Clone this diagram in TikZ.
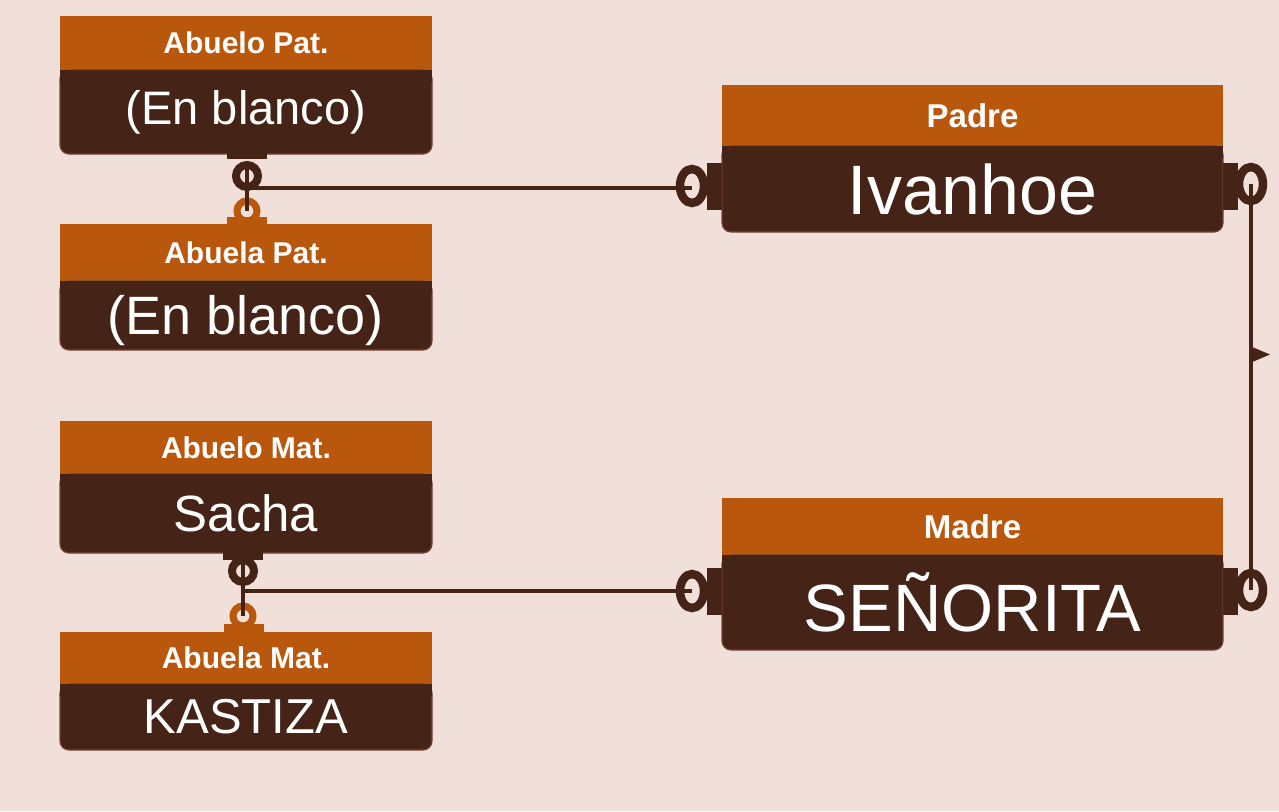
\documentclass[tikz,border=0pt]{standalone}
\usepackage{fontspec}
\setmainfont{Liberation Sans}
\usetikzlibrary{calc,shapes.geometric}
\definecolor{fondo}{HTML}{F1E0DA}
\definecolor{naranja}{HTML}{B9570D}
\definecolor{marron}{HTML}{452317}
\definecolor{borde}{HTML}{734535}
\tikzset{
  head/.style={fill=naranja, text=white, inner sep=0pt, font=\fontsize{30}{30}\selectfont\bfseries},
  body/.style={fill=marron, draw=borde, line width=1.2pt, rounded corners=9pt, text=white, inner sep=0pt, outer sep=0pt},
  narrow/.style={minimum width=372pt},
  wide/.style={minimum width=501pt},
  tabd/.style={fill=marron, inner sep=0pt, minimum width=40pt},
  tabn/.style={fill=naranja, inner sep=0pt, minimum width=40pt, minimum height=8pt},
  tabs/.style={fill=marron, inner sep=0pt, minimum width=15pt, minimum height=47pt},
  ringd/.style={circle, draw=marron, line width=8pt, minimum size=22pt, inner sep=0pt},
  ringn/.style={circle, draw=naranja, line width=7pt, minimum size=20pt, inner sep=0pt},
  ringe/.style={ellipse, draw=marron, line width=8.5pt, minimum width=24pt, minimum height=34pt, inner sep=0pt},
  link/.style={draw=marron, line width=4pt}
}
\begin{document}
\begin{tikzpicture}[x=1pt, y=-1pt]
\fill[fondo] (0,0) rectangle (1279,811);
\useasboundingbox (0,0) rectangle (1279,811);
% abuelos paternos
\node[head, narrow, minimum height=54pt] (apH) at (246,43) {Abuelo Pat.};
\node[body, narrow, minimum height=84pt, font=\fontsize{47}{47}\selectfont] (ap) at (246,112) {(En blanco)};
\node[head, narrow, minimum height=57pt] (aaH) at (246,252.5) {Abuela Pat.};
\node[body, narrow, minimum height=69pt, font=\fontsize{54}{54}\selectfont, text height=49pt, text depth=11pt] (aa) at (246,315.5) {(En blanco)};
% abuelos maternos
\node[head, narrow, minimum height=53pt] (amH) at (246,447.5) {Abuelo Mat.};
\node[body, narrow, minimum height=79pt, font=\fontsize{51}{51}\selectfont] (am) at (246,513.5) {Sacha};
\node[head, narrow, minimum height=52pt] (bmH) at (246,658) {Abuela Mat.};
\node[body, narrow, minimum height=66pt, font=\fontsize{49}{49}\selectfont] (bm) at (246,717) {KASTIZA};
% padres
\node[head, wide, minimum height=61pt, font=\fontsize{33}{33}\selectfont\bfseries] (pH) at (972.5,115.5) {Padre};
\node[body, wide, minimum height=86pt, font=\fontsize{70}{70}\selectfont] (p) at (972.5,189) {Ivanhoe};
\node[head, wide, minimum height=57pt, font=\fontsize{33}{33}\selectfont\bfseries] (mH) at (972.5,526.5) {Madre};
\node[body, wide, minimum height=95pt, font=\fontsize{67}{67}\selectfont] (m) at (972.5,602.5) {SEÑORITA};
\foreach \b in {ap,aa,am,bm,p,m}
  \fill[marron] (\b.north west) rectangle ([yshift=-12pt]\b.north east);
% pestañas y anillos
\node[tabd, minimum height=7pt] (tAP) at (247,155.5) {};
\node[tabn] (tAPb) at (247,220.5) {};
\node[tabd, minimum height=10pt] (tAM) at (243,555) {};
\node[tabn] (tAMb) at (244,628) {};
\node[tabs] (tPl) at (714.5,186.5) {};
\node[tabs] (tPr) at (1230,186.5) {};
\node[tabs] (tMl) at (714.5,591.5) {};
\node[tabs] (tMr) at (1230,591.5) {};
\node[ringd] (rAP) at (247,176) {};
\node[ringn] (rAPb) at (247,211) {};
\node[ringd] (rAM) at (243,571) {};
\node[ringn] (rAMb) at (243,616) {};
\node[ringe] (rPl) at (692,186) {};
\node[ringe] (rPr) at (1251,184) {};
\node[ringe] (rMl) at (692,591) {};
\node[ringe] (rMr) at (1251,590) {};
\coordinate (jP) at (247,188);
\coordinate (jM) at (243,591);
% conexiones
\draw[link] (rAP.north) -- (rAPb.center);
\draw[link] (rAM.north) -- (rAMb.center);
\draw[link] (jP) -- (jP -| rPl.center);
\draw[link] (jM) -- (jM -| rMl.center);
\draw[link] (rPr.center) -- (rMr.center);
\coordinate (aM) at ($(rPr.center)!0.42!(rMr.center)$);
\fill[marron] (aM) ++(0,-8) -- ++(19,8) -- ++(-19,8) -- cycle;
\end{tikzpicture}
\end{document}
